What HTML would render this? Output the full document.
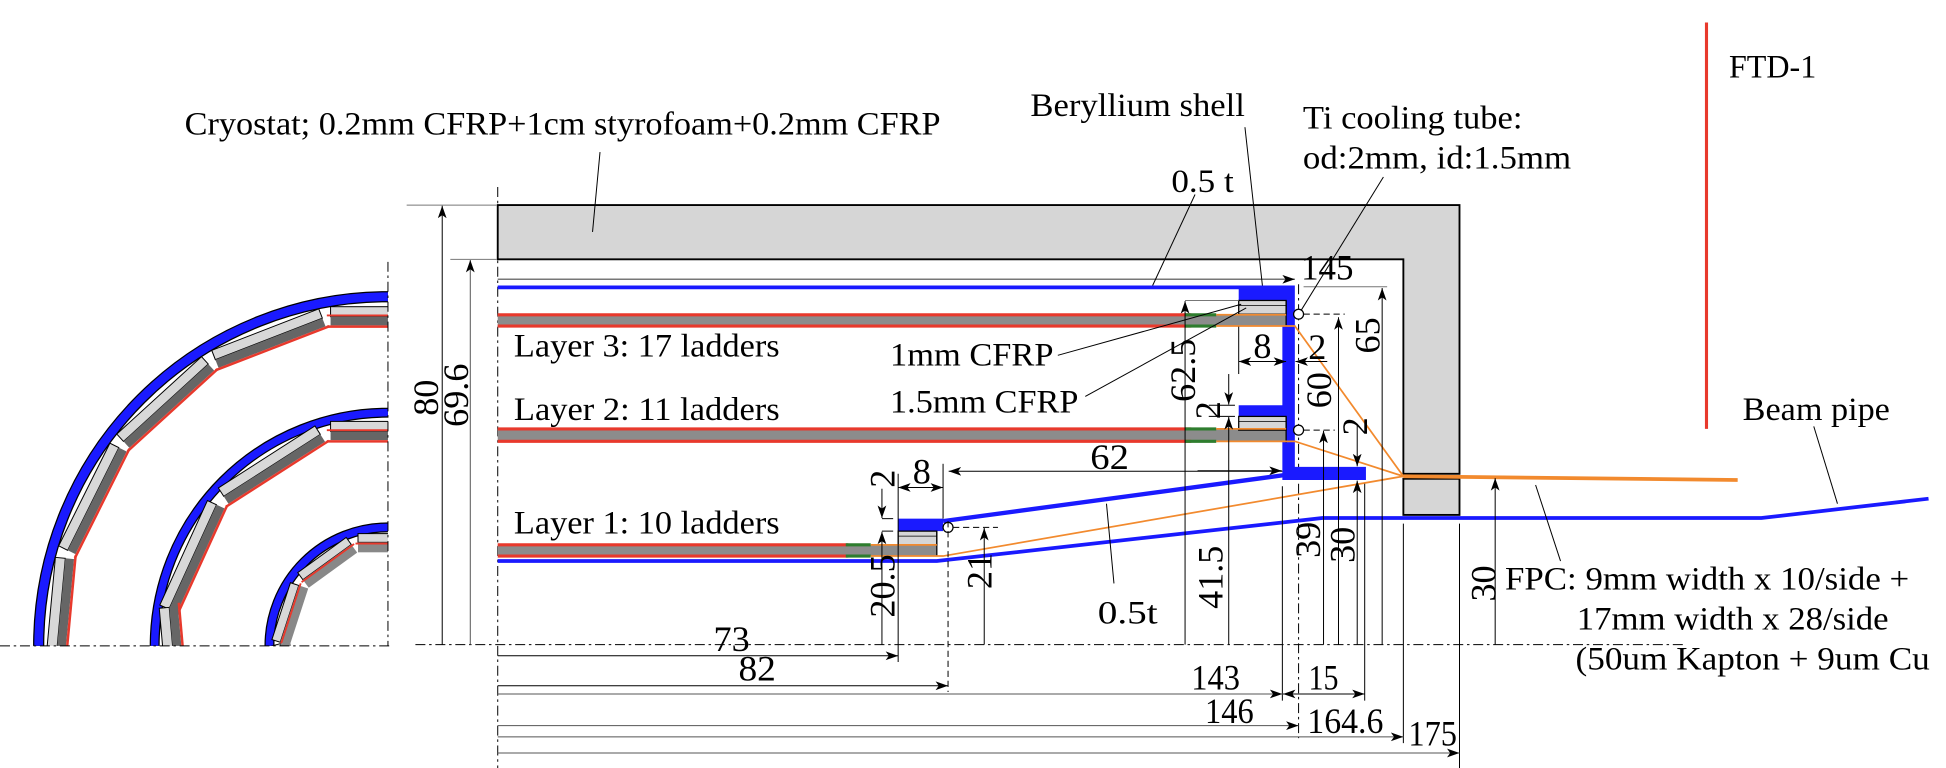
<!DOCTYPE html>
<html><head><meta charset="utf-8"><style>
html,body{margin:0;padding:0;background:#fff;overflow:hidden;width:1946px;height:768px}
svg{display:block}
text{font-family:"Liberation Serif",serif;fill:#000}
</style></head><body>
<svg width="1946" height="768" viewBox="0 0 1560 616" preserveAspectRatio="none" xmlns="http://www.w3.org/2000/svg">
<defs>
<marker id="ah" viewBox="0 0 10 10" refX="10" refY="5" markerWidth="10" markerHeight="10" markerUnits="userSpaceOnUse" orient="auto"><path d="M0,1.5 L10,5 L0,8.5 L2.5,5 Z" fill="#000"/></marker>
<marker id="ahs" viewBox="0 0 10 10" refX="0" refY="5" markerWidth="10" markerHeight="10" markerUnits="userSpaceOnUse" orient="auto"><path d="M10,1.5 L0,5 L10,8.5 L7.5,5 Z" fill="#000"/></marker>
<clipPath id="q"><rect x="0" y="150" width="311" height="368"/></clipPath>
</defs>

<g clip-path="url(#q)">
  <circle cx="311" cy="518" r="280" fill="none" stroke="#000" stroke-width="9"/>
  <circle cx="311" cy="518" r="280" fill="none" stroke="#1a1aff" stroke-width="7"/>
  <g transform="rotate(0 311 518)"><rect x="265" y="246" width="92" height="8" fill="#d8d8d8" stroke="#000" stroke-width="0.8"/><rect x="265" y="254" width="92" height="7" fill="#666"/><line x1="262" y1="262" x2="360" y2="262" stroke="#e8392c" stroke-width="2"/><line x1="262" y1="253" x2="360" y2="253" stroke="#e8392c" stroke-width="1.5"/></g>
  <g transform="rotate(-21.2 311 518)"><rect x="265" y="246" width="92" height="8" fill="#d8d8d8" stroke="#000" stroke-width="0.8"/><rect x="265" y="254" width="92" height="7" fill="#666"/><line x1="262" y1="262" x2="360" y2="262" stroke="#e8392c" stroke-width="2"/></g>
  <g transform="rotate(-42.4 311 518)"><rect x="265" y="246" width="92" height="8" fill="#d8d8d8" stroke="#000" stroke-width="0.8"/><rect x="265" y="254" width="92" height="7" fill="#666"/><line x1="262" y1="262" x2="360" y2="262" stroke="#e8392c" stroke-width="2"/></g>
  <g transform="rotate(-63.5 311 518)"><rect x="265" y="246" width="92" height="8" fill="#d8d8d8" stroke="#000" stroke-width="0.8"/><rect x="265" y="254" width="92" height="7" fill="#666"/><line x1="262" y1="262" x2="360" y2="262" stroke="#e8392c" stroke-width="2"/></g>
  <g transform="rotate(-84.7 311 518)"><rect x="265" y="246" width="92" height="8" fill="#d8d8d8" stroke="#000" stroke-width="0.8"/><rect x="265" y="254" width="92" height="7" fill="#666"/><line x1="262" y1="262" x2="360" y2="262" stroke="#e8392c" stroke-width="2"/></g>
  <circle cx="311" cy="518" r="187" fill="none" stroke="#000" stroke-width="8"/>
  <circle cx="311" cy="518" r="187" fill="none" stroke="#1a1aff" stroke-width="6"/>
  <g transform="rotate(0 311 518)"><rect x="265" y="338" width="92" height="8" fill="#d8d8d8" stroke="#000" stroke-width="0.8"/><rect x="265" y="346" width="92" height="7" fill="#666"/><line x1="262" y1="354" x2="360" y2="354" stroke="#e8392c" stroke-width="2"/><line x1="262" y1="345" x2="360" y2="345" stroke="#e8392c" stroke-width="1.5"/></g>
  <g transform="rotate(-32.7 311 518)"><rect x="265" y="338" width="92" height="8" fill="#d8d8d8" stroke="#000" stroke-width="0.8"/><rect x="265" y="346" width="92" height="7" fill="#666"/><line x1="262" y1="354" x2="360" y2="354" stroke="#e8392c" stroke-width="2"/></g>
  <g transform="rotate(-65.5 311 518)"><rect x="265" y="338" width="92" height="8" fill="#d8d8d8" stroke="#000" stroke-width="0.8"/><rect x="265" y="346" width="92" height="7" fill="#666"/><line x1="262" y1="354" x2="360" y2="354" stroke="#e8392c" stroke-width="2"/></g>
  <g transform="rotate(-95 311 518)"><rect x="265" y="338" width="92" height="8" fill="#d8d8d8" stroke="#000" stroke-width="0.8"/><rect x="265" y="346" width="92" height="7" fill="#666"/><line x1="262" y1="354" x2="360" y2="354" stroke="#e8392c" stroke-width="2"/></g>
  <circle cx="311" cy="518" r="95" fill="none" stroke="#000" stroke-width="8"/>
  <circle cx="311" cy="518" r="95" fill="none" stroke="#1a1aff" stroke-width="6"/>
  <g transform="rotate(0 311 518)"><rect x="287" y="428" width="48" height="7" fill="#d8d8d8" stroke="#000" stroke-width="0.8"/><rect x="287" y="435" width="48" height="8" fill="#888"/><line x1="285" y1="436" x2="337" y2="436" stroke="#e8392c" stroke-width="1.5"/></g>
  <g transform="rotate(-36 311 518)"><rect x="287" y="428" width="48" height="7" fill="#d8d8d8" stroke="#000" stroke-width="0.8"/><rect x="287" y="435" width="48" height="8" fill="#888"/><line x1="285" y1="436" x2="337" y2="436" stroke="#e8392c" stroke-width="1.5"/></g>
  <g transform="rotate(-72 311 518)"><rect x="287" y="428" width="48" height="7" fill="#d8d8d8" stroke="#000" stroke-width="0.8"/><rect x="287" y="435" width="48" height="8" fill="#888"/><line x1="285" y1="436" x2="337" y2="436" stroke="#e8392c" stroke-width="1.5"/></g>
  <g transform="rotate(-105 311 518)"><rect x="287" y="428" width="48" height="7" fill="#d8d8d8" stroke="#000" stroke-width="0.8"/><rect x="287" y="435" width="48" height="8" fill="#888"/></g>
</g>
<line x1="311" y1="210" x2="311" y2="518" stroke="#000" stroke-width="0.8" stroke-dasharray="8,3,2,3"/>
<line x1="0" y1="518" x2="312" y2="518" stroke="#000" stroke-width="0.8" stroke-dasharray="8,3,2,3"/>

<line x1="399" y1="150" x2="399" y2="616" stroke="#000" stroke-width="0.8" stroke-dasharray="8,3,2,3"/>
<line x1="333" y1="517" x2="1350" y2="517" stroke="#000" stroke-width="0.8" stroke-dasharray="8,3,2,3"/>
<line x1="1041" y1="228" x2="1041" y2="592" stroke="#000" stroke-width="0.8" stroke-dasharray="8,3,2,3"/>

<path d="M399,164.5 H1170 V380 H1125 V208 H399 Z" fill="#d6d6d6" stroke="#000" stroke-width="1.5"/>
<rect x="1125" y="384" width="45" height="29" fill="#d6d6d6" stroke="#000" stroke-width="1.5"/>

<line x1="399" y1="224" x2="1038" y2="224" stroke="#777" stroke-width="1.2" marker-end="url(#ah)"/>
<line x1="399" y1="230.5" x2="995" y2="230.5" stroke="#1a1aff" stroke-width="3"/>
<path d="M993,229 H1038 V374.5 H1095 V385 H1028 V334 H993 V325 H1028 V241 H993 Z" fill="#1a1aff"/>
<rect x="720" y="416" width="36" height="10" fill="#1a1aff"/>
<line x1="756" y1="418" x2="1030" y2="381" stroke="#1a1aff" stroke-width="3.5"/>
<polyline points="399,450 751,450 1060,415.5 1412,415.5 1546,400" fill="none" stroke="#1a1aff" stroke-width="3"/>

<rect x="399" y="252.5" width="632" height="9" fill="#8c8c8c"/>
<line x1="399" y1="252.5" x2="955" y2="252.5" stroke="#e8392c" stroke-width="2.5"/>
<line x1="399" y1="261.5" x2="955" y2="261.5" stroke="#e8392c" stroke-width="2.5"/>
<line x1="950" y1="252.5" x2="975" y2="252.5" stroke="#2e7d2e" stroke-width="2.5"/>
<line x1="950" y1="261.5" x2="975" y2="261.5" stroke="#2e7d2e" stroke-width="2.5"/>
<rect x="993" y="241" width="38" height="11" fill="#d6d6d6" stroke="#000" stroke-width="1"/>
<line x1="993" y1="245" x2="1031" y2="245" stroke="#000" stroke-width="0.6"/>
<line x1="1031" y1="241" x2="1031" y2="262" stroke="#000" stroke-width="1"/>

<rect x="399" y="344" width="632" height="10" fill="#8c8c8c"/>
<line x1="399" y1="344" x2="955" y2="344" stroke="#e8392c" stroke-width="2.5"/>
<line x1="399" y1="354" x2="955" y2="354" stroke="#e8392c" stroke-width="2.5"/>
<line x1="950" y1="344" x2="975" y2="344" stroke="#2e7d2e" stroke-width="2.5"/>
<line x1="950" y1="354" x2="975" y2="354" stroke="#2e7d2e" stroke-width="2.5"/>
<rect x="993" y="334" width="38" height="11" fill="#d6d6d6" stroke="#000" stroke-width="1"/>
<line x1="993" y1="338" x2="1031" y2="338" stroke="#000" stroke-width="0.6"/>
<line x1="1031" y1="334" x2="1031" y2="355" stroke="#000" stroke-width="1"/>

<rect x="399" y="437" width="352" height="9" fill="#8c8c8c"/>
<line x1="399" y1="437" x2="680" y2="437" stroke="#e8392c" stroke-width="2.5"/>
<line x1="399" y1="446" x2="680" y2="446" stroke="#e8392c" stroke-width="2.5"/>
<line x1="678" y1="437" x2="698" y2="437" stroke="#2e7d2e" stroke-width="2.5"/>
<line x1="678" y1="446" x2="698" y2="446" stroke="#2e7d2e" stroke-width="2.5"/>
<rect x="720" y="426" width="31" height="11" fill="#d6d6d6" stroke="#000" stroke-width="1"/>
<line x1="720" y1="430" x2="751" y2="430" stroke="#000" stroke-width="0.6"/>
<line x1="751" y1="426" x2="751" y2="446" stroke="#000" stroke-width="1"/>

<g stroke="#f28a2e" fill="none" stroke-width="1.4">
<line x1="975" y1="252.5" x2="1031" y2="252.5"/>
<polyline points="975,261.5 1038,261.5 1125,382"/>
<line x1="975" y1="344" x2="1031" y2="344"/>
<polyline points="975,354 1038,354 1125,382"/>
<line x1="698" y1="437" x2="751" y2="437"/>
<polyline points="698,446 756,446 1125,382"/>
</g>
<line x1="1125" y1="382" x2="1393" y2="385" stroke="#f28a2e" stroke-width="3"/>

<g fill="#fff" stroke="#000" stroke-width="1">
<circle cx="1041" cy="252" r="4"/><circle cx="1041" cy="345" r="4"/><circle cx="760" cy="423" r="4"/>
</g>
<g stroke="#000" stroke-width="0.8" stroke-dasharray="5,3">
<line x1="1045" y1="252" x2="1078" y2="252"/><line x1="1045" y1="345" x2="1070" y2="345"/><line x1="764" y1="423" x2="800" y2="423"/>
<line x1="760" y1="418" x2="760" y2="555"/>
</g>

<line x1="1368" y1="18" x2="1368" y2="344" stroke="#e8392c" stroke-width="2.5"/>

<g stroke="#000" stroke-width="0.8" fill="none">
<line x1="326" y1="164.5" x2="398" y2="164.5" stroke="#777"/>
<line x1="361" y1="208" x2="398" y2="208" stroke="#777"/>
<line x1="354.5" y1="517" x2="354.5" y2="165" marker-end="url(#ah)"/>
<line x1="377" y1="517" x2="377" y2="208.5" marker-end="url(#ah)" stroke="#555"/>
<line x1="950" y1="241" x2="993" y2="241" stroke="#777"/>
<line x1="950" y1="517" x2="950" y2="241.5" marker-end="url(#ah)"/>
<line x1="985" y1="517" x2="985" y2="334.5" marker-end="url(#ah)"/>
<line x1="969" y1="325" x2="990" y2="325"/><line x1="969" y1="334" x2="990" y2="334"/>
<line x1="985" y1="300" x2="985" y2="324.5" marker-end="url(#ah)"/>
<line x1="993" y1="262" x2="993" y2="300"/>
<line x1="993" y1="290" x2="1031" y2="290" marker-start="url(#ahs)" marker-end="url(#ah)"/>
<line x1="1064" y1="290" x2="1038.5" y2="290" marker-end="url(#ah)"/>
<line x1="1061" y1="517" x2="1061" y2="345.5" marker-end="url(#ah)"/>
<line x1="1073" y1="517" x2="1073" y2="254.5" marker-end="url(#ah)"/>
<line x1="1088" y1="340" x2="1088" y2="374" marker-end="url(#ah)"/>
<line x1="1088" y1="517" x2="1088" y2="385.5" marker-end="url(#ah)"/>
<line x1="1045" y1="230" x2="1112" y2="230" stroke="#777"/>
<line x1="1108" y1="517" x2="1108" y2="231" marker-end="url(#ah)"/>
<line x1="1198.6" y1="517" x2="1198.6" y2="383.5" marker-end="url(#ah)"/>
<line x1="789" y1="517" x2="789" y2="423.5" marker-end="url(#ah)"/>
<line x1="707" y1="416" x2="716" y2="416"/><line x1="707" y1="426" x2="716" y2="426"/>
<line x1="707" y1="517" x2="707" y2="426.5" marker-end="url(#ah)"/>
<line x1="707" y1="392" x2="707" y2="415.5" marker-end="url(#ah)"/>
<line x1="720" y1="380" x2="720" y2="531"/>
<line x1="756" y1="372" x2="756" y2="416"/>
<line x1="720" y1="391" x2="756" y2="391" marker-start="url(#ahs)" marker-end="url(#ah)"/>
<line x1="1028" y1="378" x2="760.5" y2="378" marker-end="url(#ah)"/>
<line x1="960" y1="377.6" x2="1027.5" y2="377.6" marker-end="url(#ah)"/>
<line x1="1028" y1="390" x2="1028" y2="562"/>
<line x1="1094" y1="388" x2="1094" y2="562"/>
<line x1="1125" y1="420" x2="1125" y2="596"/>
<line x1="1170" y1="420" x2="1170" y2="616"/>
<line x1="399" y1="526" x2="720" y2="526" marker-end="url(#ah)"/>
<line x1="399" y1="550" x2="760" y2="550" marker-end="url(#ah)"/>
<line x1="399" y1="556.6" x2="1028" y2="556.6" marker-end="url(#ah)" stroke="#555"/>
<line x1="1028.5" y1="556.6" x2="1094" y2="556.6" marker-start="url(#ahs)" marker-end="url(#ah)"/>
<line x1="399" y1="582" x2="1041" y2="582" marker-end="url(#ah)" stroke="#555"/>
<line x1="399" y1="591" x2="1125" y2="591" marker-end="url(#ah)" stroke="#555"/>
<line x1="399" y1="604" x2="1170" y2="604" marker-end="url(#ah)" stroke="#555"/>
<line x1="481" y1="122" x2="475" y2="186"/>
<line x1="998" y1="102" x2="1012" y2="229"/>
<line x1="1109" y1="142" x2="1043" y2="249"/>
<line x1="958" y1="156" x2="924" y2="229"/>
<line x1="848" y1="285" x2="995" y2="244"/>
<line x1="870" y1="318" x2="999" y2="247"/>
<line x1="1454" y1="342" x2="1473" y2="404"/>
<line x1="1231" y1="389" x2="1251" y2="450"/>
<line x1="887" y1="404" x2="893" y2="468"/>
</g>

<g font-size="26">
<text x="148" y="108" textLength="606" lengthAdjust="spacingAndGlyphs">Cryostat; 0.2mm CFRP+1cm styrofoam+0.2mm CFRP</text>
<text x="826" y="93" textLength="172" lengthAdjust="spacingAndGlyphs">Beryllium shell</text>
<text x="1044.5" y="103" textLength="176" lengthAdjust="spacingAndGlyphs">Ti cooling tube:</text>
<text x="1044.5" y="135" textLength="215" lengthAdjust="spacingAndGlyphs">od:2mm, id:1.5mm</text>
<text x="939" y="154" textLength="50" lengthAdjust="spacingAndGlyphs">0.5 t</text>
<text x="1386" y="62" textLength="70" lengthAdjust="spacingAndGlyphs">FTD-1</text>
<text x="412" y="286" textLength="213" lengthAdjust="spacingAndGlyphs">Layer 3: 17 ladders</text>
<text x="412" y="337" textLength="213" lengthAdjust="spacingAndGlyphs">Layer 2: 11 ladders</text>
<text x="412" y="428" textLength="213" lengthAdjust="spacingAndGlyphs">Layer 1: 10 ladders</text>
<text x="713.5" y="293" textLength="131" lengthAdjust="spacingAndGlyphs">1mm CFRP</text>
<text x="713.5" y="331" textLength="151" lengthAdjust="spacingAndGlyphs">1.5mm CFRP</text>
<text x="1397" y="337" textLength="118" lengthAdjust="spacingAndGlyphs">Beam pipe</text>
<text x="880" y="500" textLength="48" lengthAdjust="spacingAndGlyphs">0.5t</text>
<text x="1206.5" y="473" textLength="324" lengthAdjust="spacingAndGlyphs">FPC: 9mm width x 10/side +</text>
<text x="1264" y="505" textLength="250" lengthAdjust="spacingAndGlyphs">17mm width x 28/side</text>
<text x="1263" y="537" textLength="284" lengthAdjust="spacingAndGlyphs">(50um Kapton + 9um Cu</text>
</g>
<g font-size="29">
<text x="1043" y="224" textLength="42" lengthAdjust="spacingAndGlyphs">145</text>
<text x="874" y="376" textLength="31" lengthAdjust="spacingAndGlyphs">62</text>
<text x="572" y="522" textLength="29" lengthAdjust="spacingAndGlyphs">73</text>
<text x="592" y="546" textLength="30" lengthAdjust="spacingAndGlyphs">82</text>
<text x="955" y="553" textLength="39" lengthAdjust="spacingAndGlyphs">143</text>
<text x="1049" y="553" textLength="24" lengthAdjust="spacingAndGlyphs">15</text>
<text x="966" y="580" textLength="39" lengthAdjust="spacingAndGlyphs">146</text>
<text x="1048" y="588" textLength="61" lengthAdjust="spacingAndGlyphs">164.6</text>
<text x="1129" y="598" textLength="39" lengthAdjust="spacingAndGlyphs">175</text>
<text x="1012" y="287" text-anchor="middle">8</text>
<text x="1056" y="288" text-anchor="middle">2</text>
<text x="739" y="388" text-anchor="middle">8</text>
</g>
<g font-size="29" text-anchor="middle">
<text transform="translate(351,319) rotate(-90)">80</text>
<text transform="translate(375,317) rotate(-90)">69.6</text>
<text transform="translate(958,297) rotate(-90)">62.5</text>
<text transform="translate(980,463) rotate(-90)">41.5</text>
<text transform="translate(717,470) rotate(-90)">20.5</text>
<text transform="translate(795,458) rotate(-90)">21</text>
<text transform="translate(1058,433) rotate(-90)">39</text>
<text transform="translate(1086,437) rotate(-90)">30</text>
<text transform="translate(1199,468) rotate(-90)">30</text>
<text transform="translate(1106,269) rotate(-90)">65</text>
<text transform="translate(1067,313) rotate(-90)">60</text>
<text transform="translate(978,329) rotate(-90)">2</text>
<text transform="translate(1096,342) rotate(-90)">2</text>
<text transform="translate(717,384) rotate(-90)">2</text>
</g>
</svg>
</body></html>
